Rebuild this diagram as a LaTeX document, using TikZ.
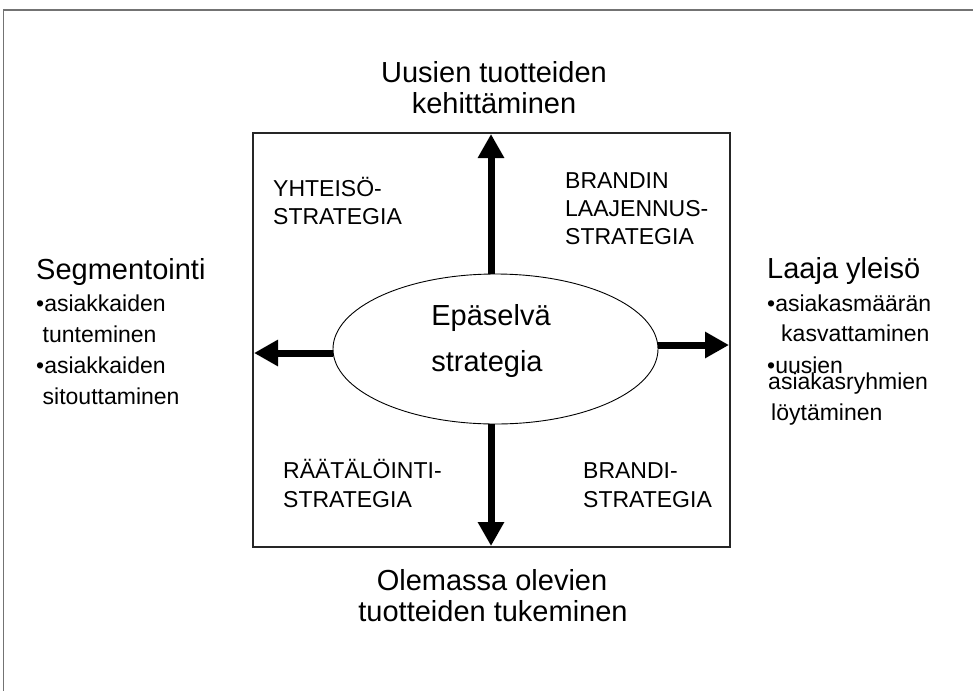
\documentclass[tikz,border=0pt]{standalone}
\usepackage{fontspec}
\setmainfont{Liberation Sans}
\usetikzlibrary{shapes.geometric,arrows.meta}
\begin{document}
\begin{tikzpicture}[x=1pt,y=-1pt,
  big/.style={inner sep=0pt, font=\fontsize{29}{31}\selectfont},
  small/.style={inner sep=0pt, font=\fontsize{23}{28}\selectfont},
  head/.style={big, anchor=base},
  line/.style={small, anchor=base west},
  arr/.style={line width=7pt, -{Triangle[length=24pt,width=25pt]}},
  frame/.style={draw=black!55, line width=1.6pt},
  boxline/.style={draw=black!85, line width=1.1pt}]
\useasboundingbox (0,0) rectangle (973,691);
\fill[white] (0,0) rectangle (973,691);

% outer frame (only top and left edges are visible)
\draw[frame] (973,10) -- (3.5,10) -- (3.5,691);

% square of the four strategies
\draw[boxline] (253,133) rectangle (730,547);

% arrow tips
\coordinate (tipN) at (491,134);
\coordinate (tipS) at (491,546);
\coordinate (tipW) at (254,353);
\coordinate (tipE) at (729,345);

% central ellipse
\node[draw, line width=0.9pt, fill=white, ellipse, minimum width=325pt,
      minimum height=150pt, inner sep=0pt] (ell) at (495.5,349) {};
\node[head] (ep1) at (491,325) {Epäselvä};
\node[head] (ep2) at (487,371) {strategia};

% arrows out of the ellipse
\draw[arr] (tipN |- ell.north) -- (tipN);
\draw[arr] (tipS |- ell.south) -- (tipS);
\draw[arr] (ell.west |- tipW) -- (tipW);
\draw[arr] (ell.east |- tipE) -- (tipE);

% axis labels
\node[head] (t1) at (494,82) {Uusien tuotteiden};
\node[head] (t2) at (494,113) {kehittäminen};
\node[head] (b1) at (492,590) {Olemassa olevien};
\node[head] (b2) at (493,621) {tuotteiden tukeminen};

% left side
\node[big, anchor=base west] (l0) at (36,279) {Segmentointi};
\node[line] (l1) at (36,311) {•asiakkaiden};
\node[line] (l2) at (42.5,342) {tunteminen};
\node[line] (l3) at (36,373) {•asiakkaiden};
\node[line] (l4) at (42.5,404) {sitouttaminen};

% right side
\node[big, anchor=base west] (r0) at (767,278) {Laaja yleisö};
\node[line] (r1) at (767,311) {•asiakasmäärän};
\node[line] (r2) at (781,341) {kasvattaminen};
\node[line] (r3) at (767,373) {•uusien};
\node[line] (r4) at (768,389) {asiakasryhmien};
\node[line] (r5) at (771,420) {löytäminen};

% quadrant labels
\node[line] (q1a) at (273,196) {YHTEISÖ-};
\node[line] (q1b) at (273,224) {STRATEGIA};
\node[line] (q2a) at (565,188) {BRANDIN};
\node[line] (q2b) at (565,216) {LAAJENNUS-};
\node[line] (q2c) at (565,244) {STRATEGIA};
\node[line] (q3a) at (283,478) {RÄÄTÄLÖINTI-};
\node[line] (q3b) at (283,507) {STRATEGIA};
\node[line] (q4a) at (583,478) {BRANDI-};
\node[line] (q4b) at (583,507) {STRATEGIA};
\end{tikzpicture}
\end{document}
